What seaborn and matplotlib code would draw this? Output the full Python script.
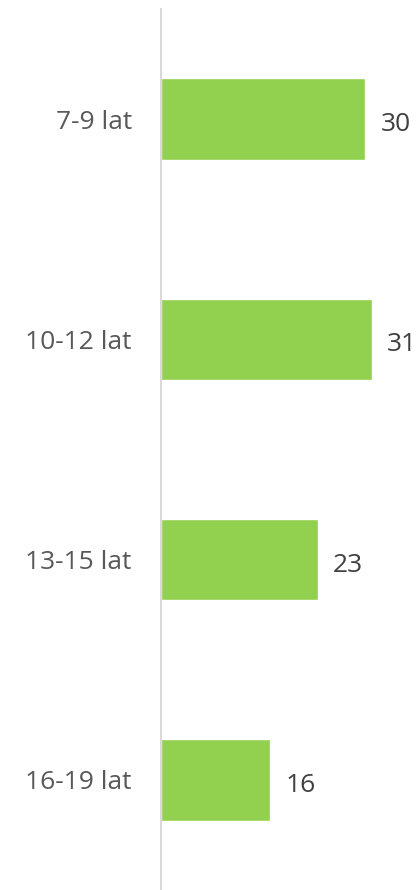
import matplotlib
matplotlib.use("Agg")
import matplotlib.pyplot as plt
import seaborn as sns
import pandas as pd

categories = ["7-9 lat", "10-12 lat", "13-15 lat", "16-19 lat"]
values = [30, 31, 23, 16]

df = pd.DataFrame({"grupa": categories, "wartosc": values})

sns.set_style("white")
plt.rcParams["font.family"] = ["Open Sans", "DejaVu Sans"]

fig = plt.figure(figsize=(4.19, 8.90), dpi=100)
ax = fig.add_axes([161 / 419, 0.0, 1 - 161 / 419, 1 - 9 / 890])

sns.barplot(data=df, x="wartosc", y="grupa", order=categories, color="#92D050",
            saturation=1, width=0.37, ax=ax, orient="h")

# value labels a bit below bar centre, like the old-style digits in the original
for p, v in zip(ax.patches, values):
    ax.annotate(str(v), xy=(p.get_width(), p.get_y() + p.get_height() / 2),
                xytext=(11, -4), textcoords="offset points",
                ha="left", va="center", fontsize=19, color="#404040")

ax.set_xlim(0, 37.9)
ax.set_ylim(3.5, -0.5)
ax.set_xlabel("")
ax.set_ylabel("")
ax.set_xticks([])
ax.tick_params(axis="y", length=0, pad=21, labelsize=19, labelcolor="#595959")
for s in ["top", "right", "bottom"]:
    ax.spines[s].set_visible(False)
ax.spines["left"].set_color("#D9D9D9")
ax.spines["left"].set_linewidth(1.5)

fig.savefig("out.png", dpi=100, facecolor="#FFFFFF")
